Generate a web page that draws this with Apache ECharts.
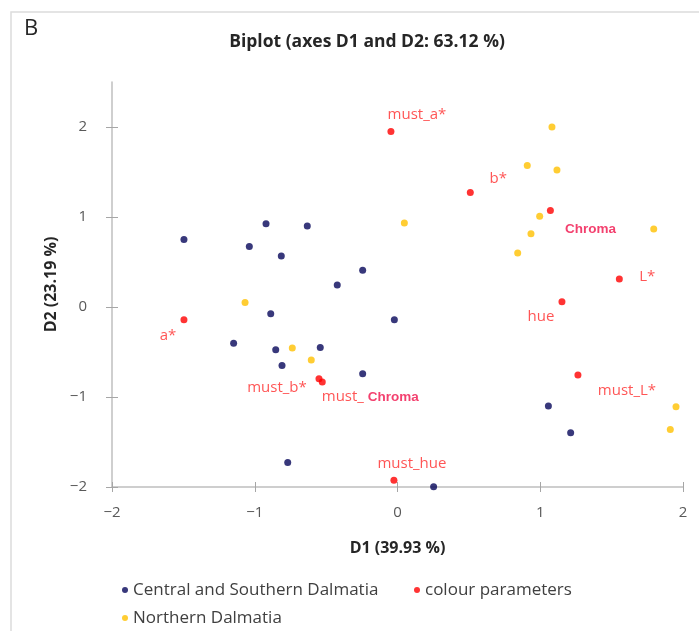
<!DOCTYPE html>
<html>
<head>
<meta charset="utf-8">
<script src="https://cdn.jsdelivr.net/npm/echarts@6/dist/echarts.min.js"></script>
<style>
html,body{margin:0;padding:0;background:#fff;}
#chart{width:699px;height:631px;}
</style>
</head>
<body>
<div id="chart"></div>
<script>
// ---- data ----
const centralSouthern = [
  [-1.496, 0.751], [-0.921, 0.926], [-0.632, 0.900], [-1.038, 0.673],
  [-0.814, 0.567], [-0.244, 0.407], [-0.422, 0.244], [-0.888, -0.074],
  [-0.022, -0.141], [-1.148, -0.404], [-0.853, -0.474], [-0.541, -0.449],
  [-0.809, -0.649], [-0.244, -0.741], [-0.769, -1.727], [1.057, -1.100],
  [1.213, -1.397], [0.253, -1.997]
];
const northern = [
  [-1.068, 0.051], [-0.737, -0.456], [-0.604, -0.589], [1.082, 2.000],
  [0.909, 1.573], [1.117, 1.522], [0.996, 1.007], [0.048, 0.933],
  [0.935, 0.814], [1.795, 0.866], [0.842, 0.600], [1.951, -1.108],
  [1.911, -1.360]
];
const colourParamNames = ['must_a*', 'b*', 'Chroma', 'L*', 'hue', 'must_L*', 'a*', 'must_b*', 'must_ Chroma', 'must_hue'];
const colourParamD1 = [-0.046, 0.510, 1.071, 1.554, 1.152, 1.264, -1.496, -0.550, -0.527, -0.025];
const colourParamD2 = [1.951, 1.273, 1.073, 0.311, 0.059, -0.756, -0.141, -0.797, -0.833, -1.926];
const tickValues = [-2, -1, 0, 1, 2];

// ---- label placement (styling, not data): text centre relative to point, px ----
const labelOffsets = {
  'must_a*': [26, -17], 'b*': [28, -14], 'Chroma': [40, 19], 'L*': [28, -2],
  'hue': [-21, 15], 'must_L*': [49, 16], 'a*': [-16, 16], 'must_b*': [-42, 9],
  'must_ Chroma': [48, 15], 'must_hue': [18, -17]
};

const FONT = 'Open Sans';
const fmt = v => (v < 0 ? '\u2212' + Math.abs(v) : String(v));

const colourData = colourParamNames.map((n, i) => ({
  name: n,
  value: [colourParamD1[i], colourParamD2[i]],
  label: {
    formatter: n === 'must_ Chroma' ? 'must_ {c|Chroma}' : (n === 'Chroma' ? '{c|Chroma}' : n)
  }
}));

const chart = echarts.init(document.getElementById('chart'), null, { renderer: 'canvas' });
const axisBase = { type: 'value', interval: 1, splitLine: { show: false } };
const tickStyle = { color: '#a6a6a6', width: 1 };
const legendText = { fontFamily: FONT, fontSize: 17, color: '#404040', lineHeight: 18 };

chart.setOption({
  animation: false,
  backgroundColor: '#fff',
  textStyle: { fontFamily: FONT },
  graphic: [
    { type: 'rect', shape: { x: 11, y: 12, width: 720, height: 660 }, style: { fill: 'none', stroke: '#dcdcdc', lineWidth: 1.5 }, z: -1 },
    { type: 'text', left: 24, top: 18, style: { text: 'B', fontFamily: FONT, fontSize: 22, fill: '#262626' } }
  ],
  title: {
    text: 'Biplot (axes D1 and D2: 63.12 %)',
    left: 362, top: 28, textAlign: 'center',
    textStyle: { fontFamily: FONT, fontSize: 17.5, fontWeight: 'bold', color: '#262626' }
  },
  grid: { left: 112, right: 16, top: 82, bottom: 144, containLabel: false },
  xAxis: [
    Object.assign({}, axisBase, {
      min: -2, max: 2, position: 'bottom',
      name: 'D1 (39.93 %)', nameLocation: 'middle', nameGap: 53,
      nameTextStyle: { fontFamily: FONT, fontSize: 16, fontWeight: 'bold', color: '#262626' },
      axisLine: { show: true, onZero: false, lineStyle: { color: '#bfbfbf', width: 1.5 } },
      axisTick: { show: true, inside: false, length: 5, customValues: tickValues, lineStyle: tickStyle },
      axisLabel: { customValues: tickValues, formatter: fmt, margin: 18, fontFamily: FONT, fontSize: 15, color: '#595959' }
    }),
    Object.assign({}, axisBase, {
      min: -2, max: 2, position: 'bottom',
      axisLine: { show: false, onZero: false },
      axisTick: { show: true, inside: true, length: 5, customValues: tickValues, lineStyle: tickStyle },
      axisLabel: { show: false }
    })
  ],
  yAxis: [
    Object.assign({}, axisBase, {
      min: -2, max: 2.5, position: 'left',
      name: 'D2 (23.19 %)', nameLocation: 'middle', nameGap: 51,
      nameTextStyle: { fontFamily: FONT, fontSize: 16, fontWeight: 'bold', color: '#262626' },
      axisLine: { show: true, onZero: false, lineStyle: { color: '#bfbfbf', width: 1.5 } },
      axisTick: { show: true, inside: false, length: 6, customValues: tickValues, lineStyle: tickStyle },
      axisLabel: { customValues: tickValues, formatter: fmt, margin: 25, fontFamily: FONT, fontSize: 15, color: '#595959' }
    }),
    Object.assign({}, axisBase, {
      min: -2, max: 2.5, position: 'left',
      axisLine: { show: false, onZero: false },
      axisTick: { show: true, inside: true, length: 6, customValues: tickValues, lineStyle: tickStyle },
      axisLabel: { show: false }
    })
  ],
  legend: [
    { data: ['Central and Southern Dalmatia'], left: 117, top: 576, itemWidth: 6, itemHeight: 6, icon: 'circle', itemGap: 0, textStyle: legendText },
    { data: ['colour parameters'], left: 409, top: 576, itemWidth: 6, itemHeight: 6, icon: 'circle', itemGap: 0, textStyle: legendText },
    { data: ['Northern Dalmatia'], left: 117, top: 604, itemWidth: 6, itemHeight: 6, icon: 'circle', itemGap: 0, textStyle: legendText }
  ],
  series: [
    { name: 'Central and Southern Dalmatia', type: 'scatter', symbolSize: 7, data: centralSouthern,
      itemStyle: { color: '#06065a' } },
    { name: 'Northern Dalmatia', type: 'scatter', symbolSize: 7, data: northern,
      itemStyle: { color: '#ffc000' } },
    { name: 'colour parameters', type: 'scatter', symbolSize: 7, data: colourData,
      itemStyle: { color: '#ff0000' },
      label: {
        show: true, position: 'inside', color: '#ff2a2a', fontFamily: FONT, fontSize: 15,
        rich: { c: { fontFamily: 'Liberation Sans', fontSize: 13.5, color: '#f0104a', fontWeight: 'bold' } }
      },
      labelLayout: function (params) {
        const o = labelOffsets[colourParamNames[params.dataIndex]];
        return { dx: o[0], dy: o[1], hideOverlap: false };
      }
    }
  ]
});
</script>
</body>
</html>
